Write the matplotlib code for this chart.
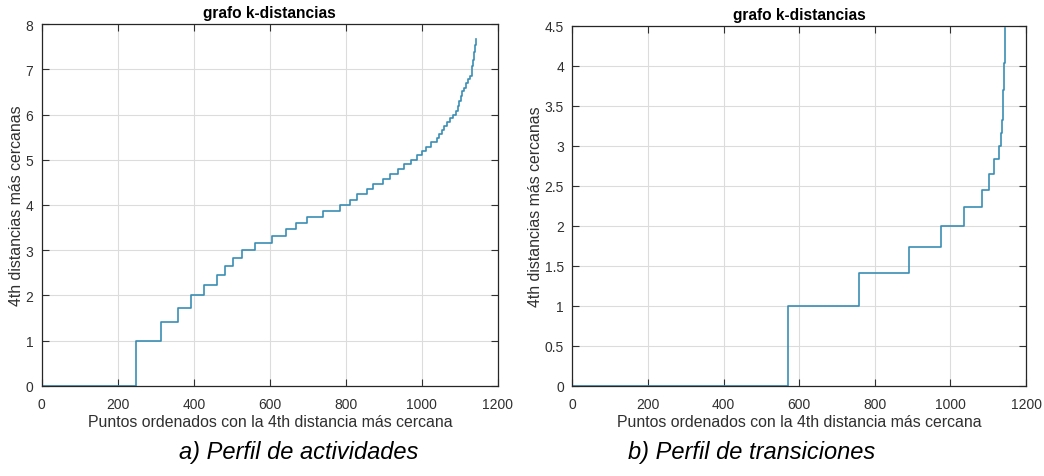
import matplotlib
matplotlib.use('Agg')
import matplotlib.pyplot as plt
from matplotlib.ticker import FuncFormatter

plt.rcParams['font.family'] = ['Liberation Sans', 'DejaVu Sans']

# Perfil de actividades: inicio de cada escalón y su valor
act_x = [0, 247, 314, 358, 392, 428, 460, 483, 504, 528, 560, 605, 642, 670, 699,
         741, 785, 811, 828, 855, 872, 897, 916, 938, 954, 970, 986, 999, 1012,
         1025, 1039, 1046, 1052, 1058, 1066, 1074, 1082, 1090, 1094, 1098, 1102,
         1105, 1110, 1115, 1120, 1126, 1131, 1134, 1137, 1140, 1142]
act_y = [0, 1.00, 1.41, 1.73, 2.00, 2.24, 2.45, 2.65, 2.83, 3.00, 3.16, 3.32, 3.46,
         3.61, 3.74, 3.87, 4.00, 4.12, 4.24, 4.36, 4.47, 4.58, 4.69, 4.80, 4.90,
         5.00, 5.10, 5.20, 5.29, 5.39, 5.48, 5.57, 5.66, 5.74, 5.83, 5.92, 6.00,
         6.08, 6.20, 6.30, 6.42, 6.53, 6.60, 6.70, 6.78, 6.86, 7.08, 7.22, 7.38,
         7.55, 7.67]

# Perfil de transiciones
tra_x = [0, 571, 759, 891, 974, 1036, 1083, 1103, 1116, 1129, 1133, 1136, 1138,
         1140, 1142, 1144, 1145]
tra_y = [0, 1.00, 1.41, 1.73, 2.00, 2.24, 2.45, 2.65, 2.83, 3.00, 3.16, 3.32, 3.42,
         3.70, 4.04, 4.30, 4.47]

line_color = '#3a8db4'
txt_color = '#303030'
fmt = FuncFormatter(lambda v, p: '%g' % v)

fig = plt.figure(figsize=(10.44, 4.77), dpi=100)
ax1 = fig.add_axes([0.0399, 0.1893, 0.4371, 0.7577])
ax2 = fig.add_axes([0.5482, 0.1893, 0.4346, 0.7547])

paneles = [
    (ax1, act_x, act_y, 8, [0, 1, 2, 3, 4, 5, 6, 7, 8], '4th distancias más cercanas'),
    (ax2, tra_x, tra_y, 4.5, [0, 0.5, 1, 1.5, 2, 2.5, 3, 3.5, 4, 4.5], '4th distancias más cercanas'),
]

for ax, xs, ys, ymax, yt, ylab in paneles:
    ax.plot(xs, ys, drawstyle='steps-post', color=line_color, lw=1.2)
    ax.set_xlim(0, 1200)
    ax.set_ylim(0, ymax)
    ax.set_xticks([0, 200, 400, 600, 800, 1000, 1200])
    ax.set_yticks(yt)
    ax.xaxis.set_major_formatter(fmt)
    ax.yaxis.set_major_formatter(fmt)
    ax.grid(True, color='#dcdcdc', lw=0.8)
    ax.set_axisbelow(True)
    ax.tick_params(direction='in', top=True, right=True, length=5, width=0.8,
                   labelsize=10, colors=txt_color)
    ax.tick_params(axis='x', pad=8)
    ax.tick_params(axis='y', pad=6)
    for s in ax.spines.values():
        s.set_color('#262626')
        s.set_linewidth(0.9)
    ax.set_title('grafo k-distancias', fontsize=11.2, fontweight='bold', pad=5)
    ax.set_xlabel('Puntos ordenados con la 4th distancia más cercana', fontsize=11.4,
                  color=txt_color, labelpad=2)
    ax.set_ylabel(ylab, fontsize=11.4, color=txt_color, labelpad=1)

fig.text(299 / 1044, 1 - 453 / 477, 'a) Perfil de actividades', fontsize=17,
         style='italic', ha='center', va='center')
fig.text(752 / 1044, 1 - 453 / 477, 'b) Perfil de transiciones', fontsize=17,
         style='italic', ha='center', va='center')

fig.savefig('out.png', dpi=100)
